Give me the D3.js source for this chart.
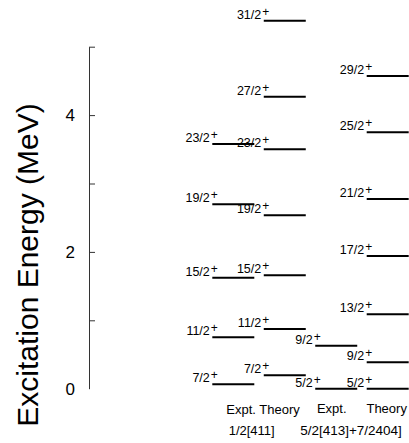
<!DOCTYPE html>
<html>
<head>
  <meta charset="UTF-8" />
  <title>Level scheme</title>
  <style>
    html, body {
      margin: 0;
      padding: 0;
      background: #fff;
    }
    svg {
      display: block;
      font-family: "Liberation Sans", Arial, sans-serif;
    }
  </style>
</head>
<body>
  <svg id="viz" width="409" height="443"></svg>

  <script src="https://cdnjs.cloudflare.com/ajax/libs/d3/7.8.5/d3.min.js"></script>
  <script>
    // band 1/2[411]
    const expt1Spins = ["7/2", "11/2", "15/2", "19/2", "23/2"];
    const expt1Energy = [0.064, 0.751, 1.623, 2.696, 3.577];
    const theo1Spins = ["7/2", "11/2", "15/2", "19/2", "23/2", "27/2", "31/2"];
    const theo1Energy = [0.196, 0.873, 1.658, 2.535, 3.500, 4.269, 5.380];

    // band 5/2[413]+7/2[404]
    const expt2Spins = ["5/2", "9/2"];
    const expt2Energy = [0.0, 0.629];
    const theo2Spins = ["5/2", "9/2", "13/2", "17/2", "21/2", "25/2", "29/2"];
    const theo2Energy = [0.0, 0.386, 1.088, 1.940, 2.773, 3.749, 4.572];

    const yTicks = [0, 1, 2, 3, 4, 5];
    const yTickLabels = ["0", "", "2", "", "4", ""];

    const svg = d3.select("#viz");

    const y = d3.scaleLinear().domain([0, 5]).range([388.7, 46.7]);
    const x = d3.scaleLinear().domain([0, 3]).range([212.3, 366.7]);
    const levelW = 42;

    // axis
    const axis = d3.axisLeft(y)
      .tickValues(yTicks)
      .tickFormat((d, i) => yTickLabels[i])
      .tickSizeInner(-6)
      .tickSizeOuter(0)
      .tickPadding(14);

    const gAxis = svg.append("g")
      .attr("transform", "translate(89,0)")
      .call(axis);
    gAxis.select(".domain").attr("stroke", "#333");
    gAxis.selectAll(".tick line").attr("stroke", "#333")
      .filter(d => d === 0).remove();
    gAxis.selectAll(".tick text")
      .attr("fill", "#000")
      .style("font-size", "17px")
      .style("font-family", "'Liberation Sans', Arial, sans-serif");

    svg.append("text")
      .attr("transform", "translate(38,265) rotate(-90)")
      .attr("text-anchor", "middle")
      .style("font-size", "30px")
      .attr("fill", "#000")
      .text("Excitation Energy (MeV)");

    // levels
    const cols = [
      { spins: expt1Spins, energy: expt1Energy },
      { spins: theo1Spins, energy: theo1Energy },
      { spins: expt2Spins, energy: expt2Energy },
      { spins: theo2Spins, energy: theo2Energy }
    ];

    cols.forEach((col, ci) => {
      const g = svg.append("g");
      const x0 = x(ci);
      col.energy.forEach((e, i) => {
        const yy = y(e);
        g.append("line")
          .attr("x1", x0).attr("x2", x0 + levelW)
          .attr("y1", yy).attr("y2", yy)
          .attr("stroke", "#000")
          .attr("stroke-width", 2);

        g.append("text")
          .attr("x", x0 - 2.5)
          .attr("y", yy - 2)
          .attr("text-anchor", "end")
          .style("font-size", "12.5px")
          .attr("fill", "#000")
          .text(col.spins[i]);

        g.append("text")
          .attr("x", x0 - 1.5)
          .attr("y", yy - 5)
          .style("font-size", "12px")
          .attr("fill", "#000")
          .text("+");
      });
    });

    // column captions
    svg.append("text")
      .attr("x", 263).attr("y", 414)
      .attr("text-anchor", "middle")
      .style("font-size", "13px")
      .text("Expt. Theory");
    svg.append("text")
      .attr("x", 331.7).attr("y", 413)
      .attr("text-anchor", "middle")
      .style("font-size", "13px")
      .text("Expt.");
    svg.append("text")
      .attr("x", 386.7).attr("y", 413)
      .attr("text-anchor", "middle")
      .style("font-size", "13px")
      .text("Theory");

    svg.append("text")
      .attr("x", 251.7).attr("y", 435)
      .attr("text-anchor", "middle")
      .style("font-size", "13px")
      .text("1/2[411]");
    svg.append("text")
      .attr("x", 351).attr("y", 435)
      .attr("text-anchor", "middle")
      .style("font-size", "13.5px")
      .text("5/2[413]+7/2404]");
  </script>
</body>
</html>
